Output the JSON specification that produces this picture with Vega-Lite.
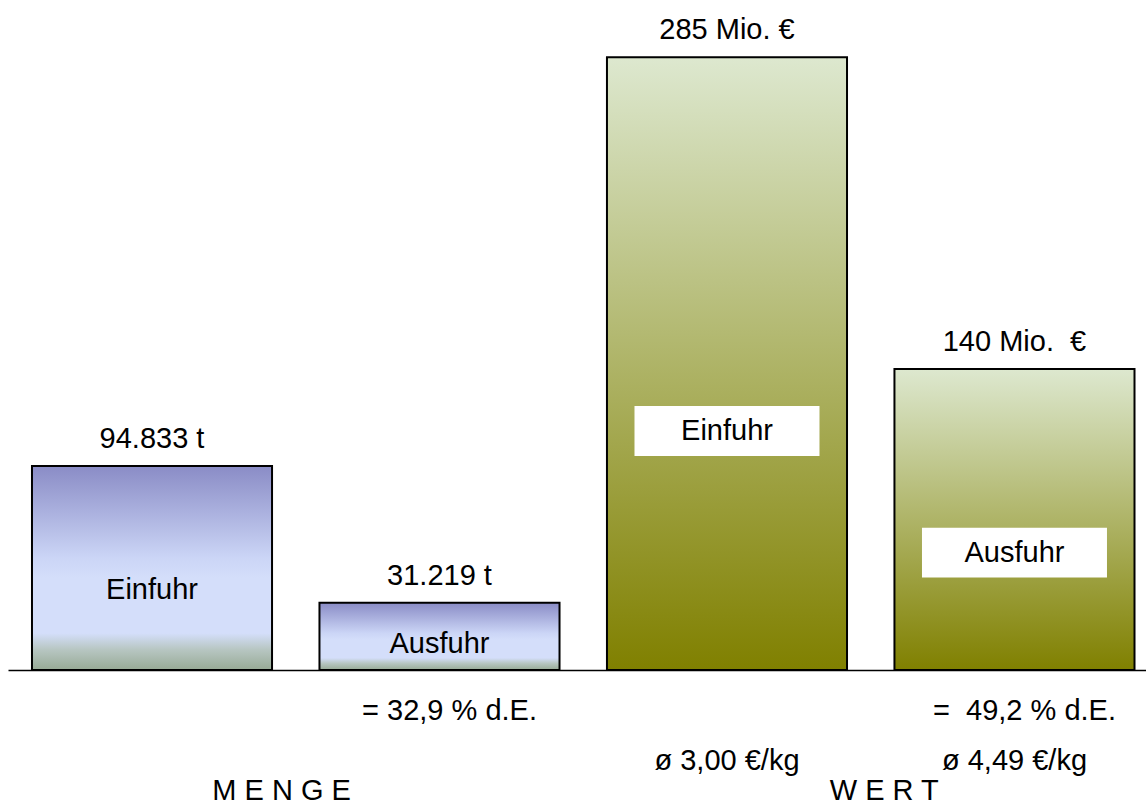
{
  "$schema": "https://vega.github.io/schema/vega-lite/v6.json",
  "width": 1138,
  "height": 670,
  "autosize": {"type": "none"},
  "padding": {"left": 8, "top": 0, "right": 0, "bottom": 135},
  "background": "white",
  "config": {"view": {"stroke": null}, "text": {"font": "Liberation Sans", "fontSize": 29, "color": "black"}},
  "datasets": {
    "bars": [
      {"cat": "M-Einfuhr", "group": "Menge", "flow": "Einfuhr", "value": 94.833, "label": "94.833 t", "note1": "", "note2": ""},
      {"cat": "M-Ausfuhr", "group": "Menge", "flow": "Ausfuhr", "value": 31.219, "label": "31.219 t", "note1": "= 32,9 % d.E.", "note2": ""},
      {"cat": "W-Einfuhr", "group": "Wert", "flow": "Einfuhr", "value": 285, "label": "285 Mio. €", "note1": "", "note2": "ø 3,00 €/kg"},
      {"cat": "W-Ausfuhr", "group": "Wert", "flow": "Ausfuhr", "value": 140, "label": "140 Mio. \u00a0€", "note1": "= \u00a049,2 % d.E.", "note2": "ø 4,49 €/kg"}
    ],
    "groups": [
      {"cat": "M-Einfuhr", "group": "Menge", "text": "M E N G E"},
      {"cat": "W-Einfuhr", "group": "Wert", "text": "W E R T"}
    ]
  },
  "data": {"name": "bars"},
  "encoding": {
    "x": {
      "field": "cat", "type": "nominal",
      "scale": {"domain": ["M-Einfuhr", "M-Ausfuhr", "W-Einfuhr", "W-Ausfuhr"], "paddingInner": 0.165, "paddingOuter": 0.0617, "align": 0.676},
      "axis": {"domain": true, "domainColor": "black", "domainWidth": 1.5, "ticks": false, "labels": false, "title": null, "grid": false}
    }
  },
  "layer": [
    {
      "transform": [{"filter": "datum.group === 'Menge'"}],
      "mark": {
        "type": "bar", "stroke": "black", "strokeWidth": 2,
        "fill": {"gradient": "linear", "x1": 0, "y1": 0, "x2": 0, "y2": 1, "stops": [
          {"offset": 0, "color": "#8a8cc6"},
          {"offset": 0.45, "color": "#cbd5f6"},
          {"offset": 0.55, "color": "#d4defa"},
          {"offset": 0.82, "color": "#d4defa"},
          {"offset": 0.9, "color": "#b7c6c2"},
          {"offset": 1, "color": "#97aa95"}
        ]}
      },
      "encoding": {
        "y": {"field": "value", "type": "quantitative", "scale": {"domain": [0, 311.6], "nice": false, "zero": true}, "axis": null}
      }
    },
    {
      "transform": [{"filter": "datum.group === 'Wert'"}],
      "mark": {
        "type": "bar", "stroke": "black", "strokeWidth": 2,
        "fill": {"gradient": "linear", "x1": 0, "y1": 0, "x2": 0, "y2": 1, "stops": [
          {"offset": 0, "color": "#dde8cf"},
          {"offset": 1, "color": "#808000"}
        ]}
      },
      "encoding": {
        "y": {"field": "value", "type": "quantitative", "scale": {"domain": [0, 311.6], "nice": false, "zero": true}, "axis": null}
      }
    },
    {
      "mark": {"type": "text", "baseline": "alphabetic", "align": "center", "dy": -18},
      "encoding": {
        "y": {"field": "value", "type": "quantitative", "scale": {"domain": [0, 311.6], "nice": false, "zero": true}, "axis": null},
        "text": {"field": "label"}
      }
    },
    {
      "transform": [{"filter": "datum.group === 'Wert'"}],
      "mark": {"type": "point", "shape": "M-1,-0.27L1,-0.27L1,0.27L-1,0.27Z", "size": 34225, "filled": true, "fill": "white", "opacity": 1, "strokeWidth": 0},
      "encoding": {
        "y": {"field": "value", "type": "quantitative", "scale": {"domain": [0, 799], "nice": false, "zero": true}, "axis": null}
      }
    },
    {
      "mark": {"type": "text", "baseline": "middle", "align": "center"},
      "encoding": {
        "y": {"field": "value", "type": "quantitative", "scale": {"domain": [0, 799], "nice": false, "zero": true}, "axis": null},
        "text": {"field": "flow"}
      }
    },
    {
      "mark": {"type": "text", "baseline": "alphabetic", "align": "center", "dy": 50, "dx": 10},
      "encoding": {
        "y": {"datum": 0, "type": "quantitative", "scale": {"domain": [0, 311.6], "nice": false, "zero": true}, "axis": null},
        "text": {"field": "note1"}
      }
    },
    {
      "mark": {"type": "text", "baseline": "alphabetic", "align": "center", "dy": 100},
      "encoding": {
        "y": {"datum": 0, "type": "quantitative", "scale": {"domain": [0, 311.6], "nice": false, "zero": true}, "axis": null},
        "text": {"field": "note2"}
      }
    },
    {
      "data": {"name": "groups"},
      "transform": [{"filter": "datum.group === 'Menge'"}],
      "mark": {"type": "text", "baseline": "alphabetic", "align": "center", "dy": 130},
      "encoding": {
        "x": {"field": "cat", "type": "nominal", "bandPosition": 1.04},
        "y": {"datum": 0, "type": "quantitative", "scale": {"domain": [0, 311.6], "nice": false, "zero": true}, "axis": null},
        "text": {"field": "text"}
      }
    },
    {
      "data": {"name": "groups"},
      "transform": [{"filter": "datum.group === 'Wert'"}],
      "mark": {"type": "text", "baseline": "alphabetic", "align": "center", "dy": 130},
      "encoding": {
        "x": {"field": "cat", "type": "nominal", "bandPosition": 1.155},
        "y": {"datum": 0, "type": "quantitative", "scale": {"domain": [0, 311.6], "nice": false, "zero": true}, "axis": null},
        "text": {"field": "text"}
      }
    }
  ],
  "resolve": {"scale": {"y": "independent"}}
}
